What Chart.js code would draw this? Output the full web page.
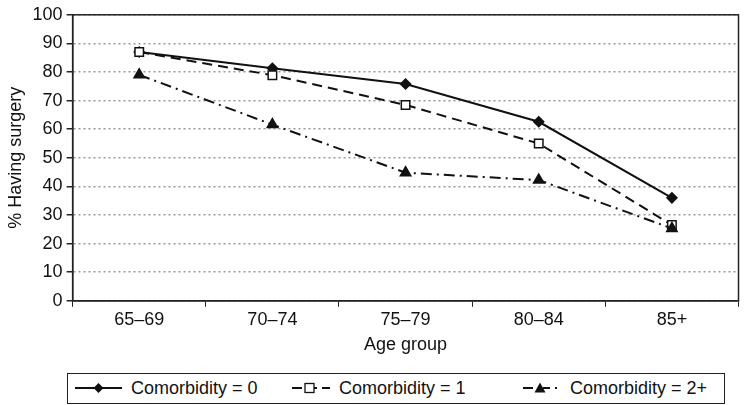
<!DOCTYPE html>
<html>
<head>
<meta charset="utf-8">
<script src="https://cdn.jsdelivr.net/npm/chart.js@4/dist/chart.umd.min.js"></script>
<style>
  body { margin: 0; background: #fff; font-family: "Liberation Sans", Arial, sans-serif; }
  #wrap { position: relative; width: 746px; height: 405px; }
  #chartBox { position: absolute; left: 0; top: 0; width: 746px; height: 362px; }
  #legend {
    position: absolute; left: 67px; top: 373px; width: 658px; height: 31px;
    border: 1.5px solid #222; box-sizing: border-box;
    font-size: 18px; color: #111;
  }
  #legend .item { position: absolute; top: 0; height: 28px; display: flex; align-items: center; gap: 9px; }
</style>
</head>
<body>
<div id="wrap">
  <div id="chartBox"><canvas id="chart"></canvas></div>
  <div id="legend"></div>
</div>
<script>
const ageGroups = ['65–69', '70–74', '75–79', '80–84', '85+'];
const comorb0 = [87, 81.3, 75.8, 62.6, 36];
const comorb1 = [87, 78.9, 68.5, 55, 26.5];
const comorb2 = [79, 61.6, 44.8, 42.2, 25.3];
const yTicks = [0, 10, 20, 30, 40, 50, 60, 70, 80, 90, 100];

const ink = '#111';

// order: lower drawn on top (triangle over square over diamond)
const seriesDefs = [
    { label: 'Comorbidity = 0', data: comorb0, dash: [], point: 'rectRot', radius: 5, fill: ink, order: 2 },
    { label: 'Comorbidity = 1', data: comorb1, dash: [10, 6], point: 'rect', radius: 6, fill: '#fff', order: 1 },
    { label: 'Comorbidity = 2+', data: comorb2, dash: [11, 5, 2, 5], point: 'triangle', radius: 6, fill: ink, order: 0 }
];

// border round the plot area
const frame = {
    id: 'frame',
    afterDraw(chart) {
        const a = chart.chartArea;
        const c = chart.ctx;
        c.save();
        c.strokeStyle = '#222';
        c.lineWidth = 1.5;
        c.strokeRect(a.left, a.top, a.right - a.left, a.bottom - a.top);
        c.restore();
    }
};

const tickFont = { family: 'Liberation Sans', size: 18 };

new Chart(document.getElementById('chart'), {
    type: 'line',
    data: {
        labels: ageGroups,
        datasets: seriesDefs.map(s => ({
            label: s.label,
            data: s.data,
            order: s.order,
            borderColor: ink,
            borderWidth: 2,
            borderDash: s.dash,
            pointStyle: s.point,
            pointRadius: s.radius,
            pointBackgroundColor: s.fill,
            pointBorderColor: ink,
            pointBorderWidth: 1.5,
            tension: 0
        }))
    },
    options: {
        responsive: true,
        maintainAspectRatio: false,
        animation: false,
        layout: { padding: { top: 10, right: 2, left: 5, bottom: 6 } },
        plugins: { legend: { display: false }, tooltip: { enabled: false } },
        scales: {
            x: {
                offset: true,
                grid: { drawOnChartArea: false, drawTicks: true, tickLength: 6, offset: true, color: '#222' },
                border: { color: '#222', width: 1.5 },
                ticks: { color: '#111', font: tickFont, padding: 2 },
                title: { display: true, text: 'Age group', color: '#111', font: tickFont, padding: { top: 2, bottom: 0 } }
            },
            y: {
                min: 0, max: 100,
                afterBuildTicks: axis => { axis.ticks = yTicks.map(v => ({ value: v })); },
                grid: { color: '#999', lineWidth: 1.5, tickLength: 6, tickColor: '#222', tickBorderDash: [] },
                border: { color: '#222', width: 1.5, dash: [2, 3] },
                ticks: { color: '#111', font: tickFont, padding: 4 },
                title: { display: true, text: '% Having surgery', color: '#111', font: tickFont, padding: { top: 0, bottom: 2 } }
            }
        }
    },
    plugins: [frame]
});

// small HTML legend with line samples
const legend = document.getElementById('legend');
const sampleSvg = [
    '<line x1="0" y1="8" x2="47" y2="8" stroke="#111" stroke-width="2"/><polygon points="23.5,3 28.5,8 23.5,13 18.5,8" fill="#111"/>',
    '<line x1="0" y1="8" x2="10" y2="8" stroke="#111" stroke-width="2"/><line x1="22" y1="8" x2="25" y2="8" stroke="#111" stroke-width="2"/><line x1="30" y1="8" x2="38" y2="8" stroke="#111" stroke-width="2"/><rect x="13" y="3.5" width="9" height="9" fill="#fff" stroke="#111" stroke-width="1.3"/>',
    '<line x1="0" y1="8" x2="10" y2="8" stroke="#111" stroke-width="2"/><line x1="20" y1="8" x2="27" y2="8" stroke="#111" stroke-width="2"/><line x1="32" y1="8" x2="34" y2="8" stroke="#111" stroke-width="2"/><polygon points="17,2.5 22.5,12.5 11.5,12.5" fill="#111"/>'
];
const itemLeft = [7, 224, 455];
seriesDefs.forEach((s, i) => {
    const item = document.createElement('span');
    item.className = 'item';
    item.style.left = itemLeft[i] + 'px';
    item.innerHTML = `<svg width="${i === 0 ? 47 : 38}" height="16">${sampleSvg[i]}</svg><span>${s.label}</span>`;
    legend.appendChild(item);
});
</script>
</body>
</html>
